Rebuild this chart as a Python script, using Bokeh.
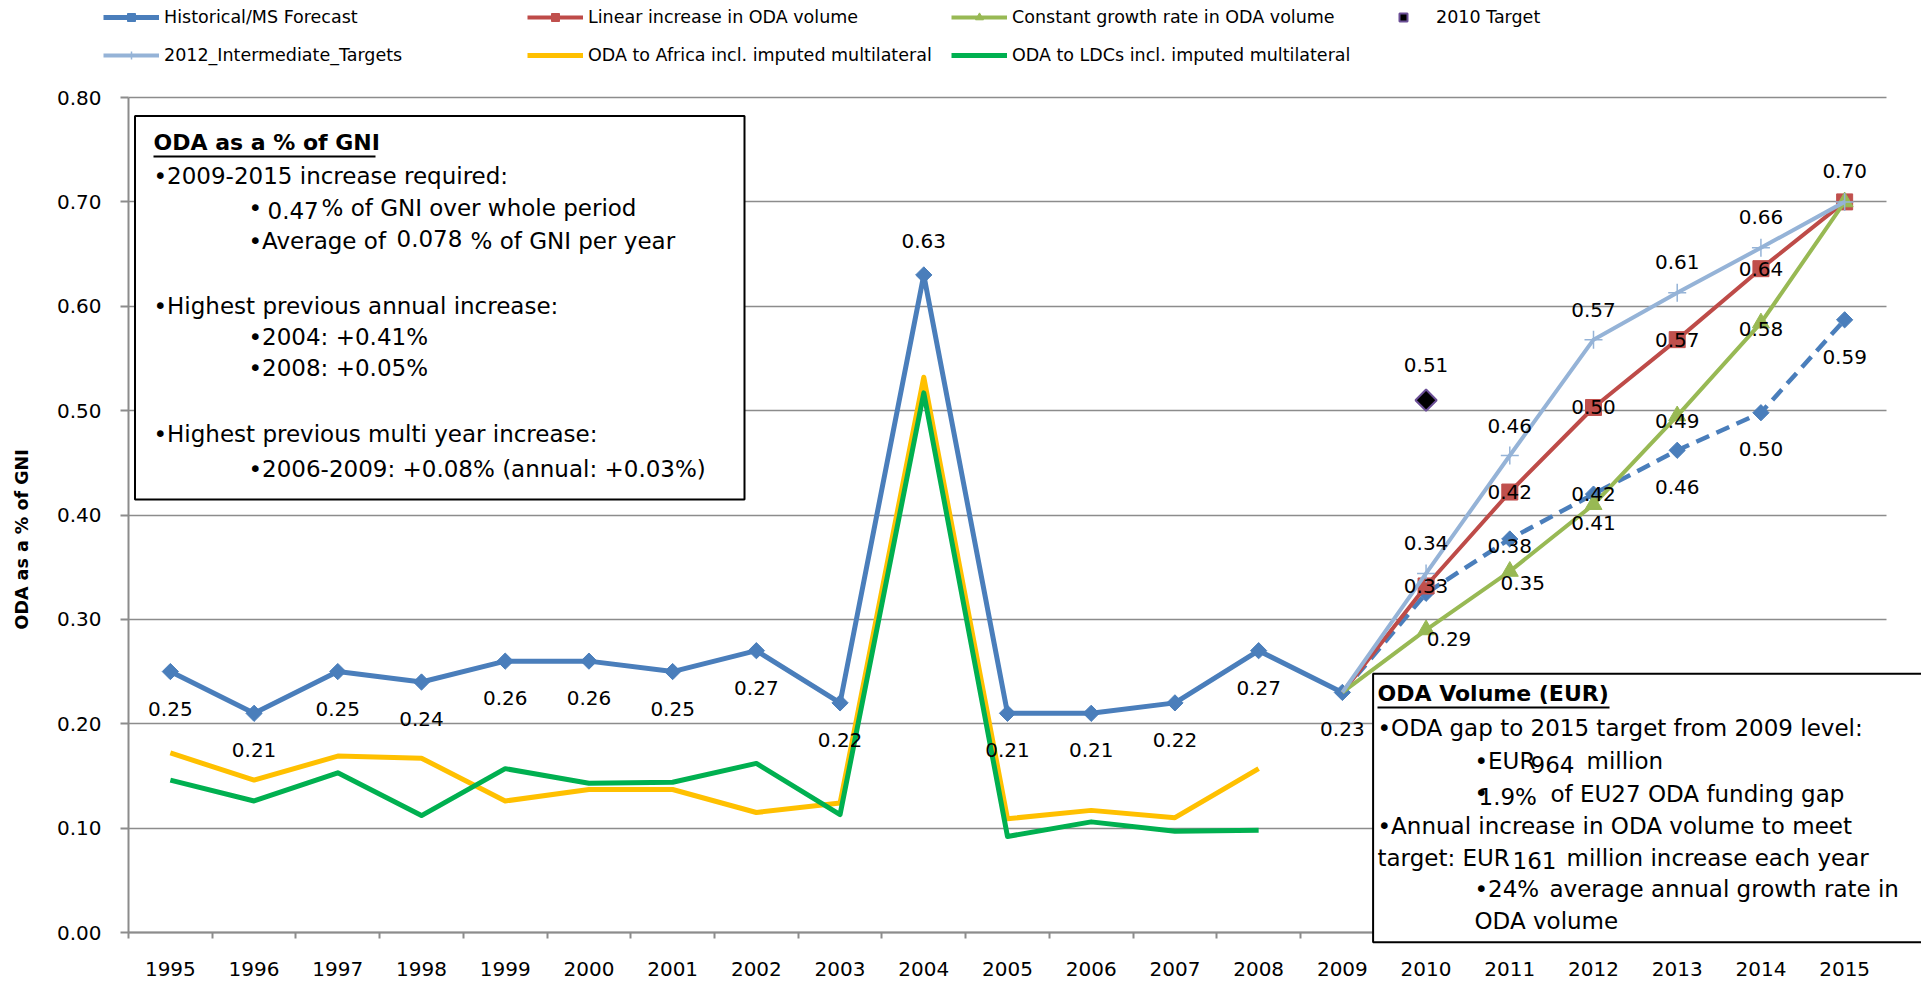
import math
from bokeh.plotting import figure
from bokeh.models import (Range1d, FixedTicker, BoxAnnotation, Label, Legend,
                          LegendItem, NumeralTickFormatter)
from bokeh.core.properties import value
from bokeh.embed import file_html
from bokeh.resources import INLINE

# ---------------- data ----------------
years = list(range(1995, 2016))
year_labels = [str(y) for y in years]

hist_years = list(range(1995, 2010))
historical = [0.25, 0.21, 0.25, 0.24, 0.26, 0.26, 0.25, 0.27, 0.22, 0.63,
              0.21, 0.21, 0.22, 0.27, 0.23]

fc_years = list(range(2009, 2016))
ms_forecast = [0.23, 0.325, 0.377, 0.42, 0.462, 0.498, 0.587]
linear_volume = [0.23, 0.332, 0.422, 0.503, 0.568, 0.636, 0.70]
constant_growth = [0.23, 0.29, 0.346, 0.41, 0.495, 0.584, 0.70]
intermediate_2012 = [0.23, 0.344, 0.457, 0.568, 0.613, 0.656, 0.70]

target_year = [2010]
target_2010 = [0.51]

dev_years = list(range(1995, 2009))
africa = [0.172, 0.146, 0.169, 0.167, 0.126, 0.137, 0.137, 0.115, 0.124,
          0.532, 0.109, 0.117, 0.110, 0.157]
ldcs = [0.146, 0.126, 0.153, 0.112, 0.157, 0.143, 0.144, 0.162, 0.113,
        0.517, 0.092, 0.106, 0.097, 0.098]

y_ticks = [0.0, 0.1, 0.2, 0.3, 0.4, 0.5, 0.6, 0.7, 0.8]

# ---------------- style ----------------
BLUE = "#4A7EBB"
RED = "#BE4B48"
GREEN = "#98B954"
LIGHT = "#95B3D7"
YELLOW = "#FFC000"
LDCG = "#00B050"
GRAY = "#8C8C8C"
FONT = "DejaVu Sans"

# page geometry (Bokeh's page has no body margin); the frame fills the page
# and both axes are pinned to the data origin of the chart.
PAGE_W, PAGE_H = 1921, 984
AXIS_X0 = 128                      # pixel column of the y axis (1994.5)
AXIS_TOP = 97                      # pixel row of value 0.80
AXIS_Y0 = 932                      # pixel row of value 0.00
XPX = (1886 - AXIS_X0) / 21.0      # pixels per year
YPX = (AXIS_Y0 - AXIS_TOP) / 0.8   # pixels per unit


def px2x(px):
    return 1994.5 + (px - AXIS_X0) / XPX


def py2y(py):
    return (AXIS_Y0 - py) / YPX


p = figure(frame_width=PAGE_W, frame_height=PAGE_H,
           x_range=Range1d(px2x(0), px2x(PAGE_W)),
           y_range=Range1d(py2y(PAGE_H), py2y(0)),
           output_backend="svg", toolbar_location=None,
           min_border_left=0, min_border_right=0,
           min_border_top=0, min_border_bottom=0)
p.outline_line_color = None
p.background_fill_color = "white"
p.border_fill_color = "white"

p.xgrid.visible = False
p.ygrid.ticker = FixedTicker(ticks=y_ticks)
p.ygrid.bounds = (0, 0.8)
p.ygrid.cross_bounds = (1994.5, 2015.5)
p.ygrid.grid_line_color = GRAY
p.ygrid.grid_line_width = 1.5

xa = p.xaxis[0]
xa.fixed_location = 0
xa.bounds = (1994.5, 2015.5)
xa.ticker = FixedTicker(ticks=years, minor_ticks=[1994.5 + i for i in range(22)])
xa.major_label_overrides = {y: s for y, s in zip(years, year_labels)}
xa.major_tick_line_color = None
xa.major_tick_out = 0
xa.major_tick_in = 0
xa.minor_tick_out = 6
xa.minor_tick_in = 0
xa.minor_tick_line_color = GRAY
xa.minor_tick_line_width = 2
xa.axis_line_color = GRAY
xa.axis_line_width = 2
xa.major_label_standoff = 23
xa.major_label_text_font = FONT
xa.major_label_text_font_size = "20px"
xa.major_label_text_color = "black"

ya = p.yaxis[0]
ya.fixed_location = 1994.5
ya.bounds = (0, 0.8)
ya.ticker = FixedTicker(ticks=y_ticks)
ya.formatter = NumeralTickFormatter(format="0.00")
ya.major_tick_out = 8
ya.major_tick_in = 0
ya.major_tick_line_color = GRAY
ya.major_tick_line_width = 2
ya.minor_tick_line_color = None
ya.axis_line_color = GRAY
ya.axis_line_width = 2
ya.major_label_standoff = 19
ya.major_label_text_font = FONT
ya.major_label_text_font_size = "20px"
ya.major_label_text_color = "black"
# trailing no-break spaces centre the visible title on the 0-0.80 span
ya.axis_label = "ODA as a % of GNI" + "\u00a0" * 8
ya.axis_label_text_font = FONT
ya.axis_label_text_font_style = "bold"
ya.axis_label_text_font_size = "17.5px"
ya.axis_label_text_color = "black"
ya.axis_label_standoff = 22

# ---------------- series ----------------
fc_line = p.line(fc_years, ms_forecast, line_color=BLUE, line_width=4.5,
                 line_dash="14 8", line_join="round")
fc_pts = p.scatter(fc_years[1:], ms_forecast[1:], marker="square",
                   angle=math.pi / 4, size=11.5, color=BLUE)
hist_line = p.line(hist_years, historical, line_color=BLUE, line_width=5,
                   line_join="round")
hist_pts = p.scatter(hist_years, historical, marker="square",
                     angle=math.pi / 4, size=11.5, color=BLUE)

lin_line = p.line(fc_years, linear_volume, line_color=RED, line_width=4,
                  line_join="round")
lin_pts = p.scatter(fc_years[1:], linear_volume[1:], marker="square",
                    size=16, color="#C0504D")

con_line = p.line(fc_years, constant_growth, line_color=GREEN, line_width=4,
                  line_join="round")
con_pts = p.scatter(fc_years[1:], constant_growth[1:], marker="triangle",
                    size=17, color=GREEN)

tgt_pts = p.scatter(target_year, target_2010, marker="square",
                    angle=math.pi / 4, size=15, fill_color="black",
                    line_color="#6B4F96", line_width=2)

int_line = p.line(fc_years, intermediate_2012, line_color=LIGHT, line_width=4,
                  line_join="round")
int_pts = p.scatter(fc_years[1:], intermediate_2012[1:], marker="cross",
                    size=18, line_color=LIGHT, line_width=1.5)

afr_line = p.line(dev_years, africa, line_color=YELLOW, line_width=5,
                  line_join="round")
ldc_line = p.line(dev_years, ldcs, line_color=LDCG, line_width=5,
                  line_join="round")

# ---------------- data labels ----------------
lab_x, lab_y, lab_t, lab_dx, lab_dy = [], [], [], [], []


def add_labels(xs, vals, idx, dx, dy):
    for i, ox, oy in zip(idx, dx, dy):
        lab_x.append(xs[i])
        lab_y.append(vals[i])
        lab_t.append(f"{vals[i]:.2f}")
        lab_dx.append(ox)
        lab_dy.append(oy)


add_labels(hist_years, historical, list(range(15)),
           [0] * 15, [37] * 9 + [-34] + [37] * 5)
add_labels(fc_years, ms_forecast, [2, 3, 4, 5, 6], [0] * 5, [7, 0, 37, 36, 37])
add_labels(fc_years, linear_volume, [1, 2, 3, 4, 5], [0] * 5, [0] * 5)
add_labels(fc_years, constant_growth, [1, 2, 3, 4, 5],
           [23, 13, 0, 0, 0], [9, 12, 18, 5, 6])
add_labels(fc_years, intermediate_2012, [1, 2, 3, 4, 5, 6], [0] * 6,
           [-30, -30, -30, -31, -31, -31])
add_labels(target_year, target_2010, [0], [0], [-35])

p.text(x=lab_x, y=lab_y, text=lab_t, x_offset=lab_dx, y_offset=lab_dy,
       text_font=value(FONT), text_font_size=value("20px"),
       text_align="center", text_baseline="middle", text_color="black")

# ---------------- legend (inside the frame, above the 0.80 line) ----------
legend = Legend(items=[
    LegendItem(label="Historical/MS Forecast", renderers=[hist_line, hist_pts]),
    LegendItem(label="Linear increase in ODA volume", renderers=[lin_line, lin_pts]),
    LegendItem(label="Constant growth rate in ODA volume", renderers=[con_line, con_pts]),
    LegendItem(label="2010 Target", renderers=[tgt_pts]),
    LegendItem(label="2012_Intermediate_Targets", renderers=[int_line, int_pts]),
    LegendItem(label="ODA to Africa incl. imputed multilateral", renderers=[afr_line]),
    LegendItem(label="ODA to LDCs incl. imputed multilateral", renderers=[ldc_line]),
], location=(103, PAGE_H - 65), orientation="horizontal", ncols=4,
    glyph_width=56, glyph_height=20, label_height=20, label_width=345,
    label_standoff=5, spacing=18, padding=0, margin=0,
    border_line_color=None, background_fill_alpha=0,
    label_text_font=FONT, label_text_font_size="17.5px",
    label_text_color="black")
p.add_layout(legend)


# ---------------- text boxes ----------------
def box(l, t, r, b):
    p.add_layout(BoxAnnotation(left=px2x(l), right=px2x(r), top=py2y(t),
                               bottom=py2y(b), fill_color="white", fill_alpha=1,
                               line_color="black", line_alpha=1, line_width=2))


def underline(l, r, y):
    p.add_layout(BoxAnnotation(left=px2x(l), right=px2x(r), top=py2y(y - 0.9),
                               bottom=py2y(y + 0.9), fill_color="black",
                               fill_alpha=1, line_color=None))


def txt(x, y, s, bold=False, size="23px"):
    p.add_layout(Label(x=px2x(x), y=py2y(y), text=s, text_font=FONT,
                       text_font_size=size, text_align="left",
                       text_baseline="middle", text_color="black",
                       text_font_style="bold" if bold else "normal"))


box(134.5, 115.5, 744, 499)
txt(153, 142, "ODA as a % of GNI", bold=True, size="22px")
underline(153, 375, 156)
txt(153, 175, "\u20222009-2015  increase required:")
txt(248, 207, "\u2022")
txt(267, 210, "0.47")
txt(321, 207, "% of GNI over whole period")
txt(248, 240, "\u2022Average of")
txt(396, 238, "0.078")
txt(470, 240, "% of GNI per year")
txt(153, 305, "\u2022Highest previous annual increase:")
txt(248, 336, "\u20222004: +0.41%")
txt(248, 367, "\u20222008: +0.05%")
txt(153, 433, "\u2022Highest previous multi year increase:")
txt(248, 468, "\u20222006-2009:  +0.08% (annual: +0.03%)")

box(1372.6, 673.3, 1935, 941.7)
txt(1377, 693, "ODA Volume (EUR)", bold=True, size="22px")
underline(1377, 1609, 707)
txt(1377, 727, "\u2022ODA gap to 2015  target from 2009  level:")
txt(1474, 760, "\u2022EUR")
txt(1530, 764, "964")
txt(1586, 760, "million")
txt(1474, 792, "\u2022")
txt(1478, 796, "1.9%")
txt(1550, 793, "of EU27 ODA funding gap")
txt(1377, 825, "\u2022Annual increase in ODA volume to meet")
txt(1377, 857, "target: EUR")
txt(1512, 860, "161")
txt(1566, 857, "million  increase each year")
txt(1474, 888, "\u202224%")
txt(1549, 888, "average annual growth rate in")
txt(1474, 920, "ODA volume")

open("out.html", "w").write(file_html(p, INLINE))
